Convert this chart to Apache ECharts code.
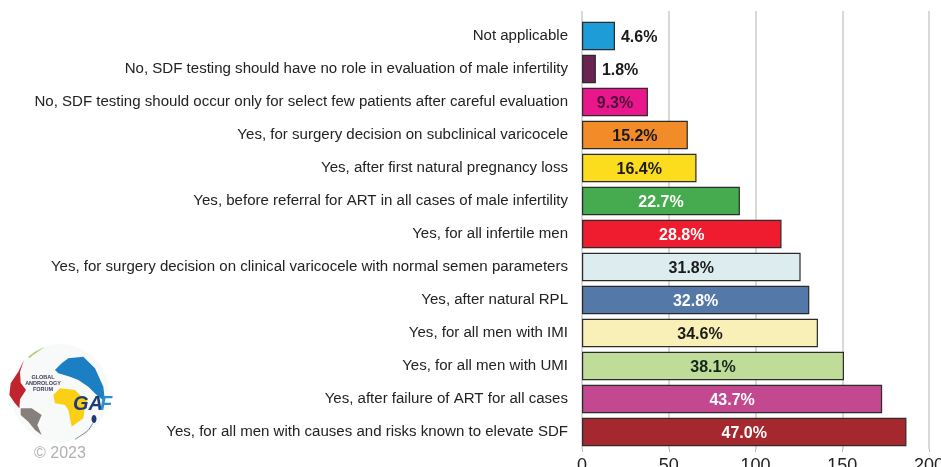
<!DOCTYPE html>
<html><head><meta charset="utf-8">
<style>html,body{margin:0;padding:0;background:#fff;overflow:hidden}#c{width:941px;height:467px}</style>
<script src="https://cdn.jsdelivr.net/npm/echarts@6/dist/echarts.min.js"></script>
</head><body><div id="c"></div>
<script>
const categories = [
 "Not applicable",
 "No, SDF testing should have no role in evaluation of male infertility",
 "No, SDF testing should occur only for select few patients after careful evaluation",
 "Yes, for surgery decision on subclinical varicocele",
 "Yes, after first natural pregnancy loss",
 "Yes, before referral for ART in all cases of male infertility",
 "Yes, for all infertile men",
 "Yes, for surgery decision on clinical varicocele with normal semen parameters",
 "Yes, after natural RPL",
 "Yes, for all men with IMI",
 "Yes, for all men with UMI",
 "Yes, after failure of ART for all cases",
 "Yes, for all men with causes and risks known to elevate SDF"
];
const counts = [19, 8, 38, 61, 66, 91, 115, 126, 131, 136, 151, 173, 187];
const percentLabels = ["4.6%","1.8%","9.3%","15.2%","16.4%","22.7%","28.8%","31.8%","32.8%","34.6%","38.1%","43.7%","47.0%"];
const barColors = ["#1e9cd7","#6b2352","#e9178b","#f28c28","#fbdd1e","#46ab4e","#ee1c2e","#dcecef","#5478a8","#f9f0b8","#bfdc98","#c2488f","#a5282e"];
const labelColors = ["#1a1a1a","#1a1a1a","#4a1238","#1a1a1a","#1a1a1a","#ffffff","#ffffff","#1a1a1a","#ffffff","#1a1a1a","#14261a","#ffffff","#ffffff"];
const xTicks = [0, 50, 100, 150, 200];

const font = '"Liberation Sans", Arial, sans-serif';
const zp = pts => pts.map(p => [p[0] / 3, 340 + p[1] / 3]);
const poly = (points, fill) => ({type:'polygon', shape:{points:zp(points)}, style:{fill}, silent:true});

const chart = echarts.init(document.getElementById('c'), null, {renderer:'canvas'});
chart.setOption({
  animation:false,
  textStyle:{fontFamily:font},
  grid:[
    {left:582,width:347,top:11,height:438,containLabel:false,outerBoundsMode:'none'},
    {left:582,width:347,top:19.5,height:429,containLabel:false,outerBoundsMode:'none'}
  ],
  xAxis:[
    {gridIndex:0,type:'value',min:xTicks[0],max:xTicks[4],interval:50,
     axisLine:{show:false},
     axisTick:{show:true,length:3,lineStyle:{color:'#bbbbbb',width:1}},
     axisLabel:{color:'#222',fontSize:18,margin:8,showMaxLabel:true},
     splitLine:{show:true,lineStyle:{color:'#cccccc',width:1.5}}},
    {gridIndex:1,type:'value',min:xTicks[0],max:xTicks[4],interval:50,show:false,splitLine:{show:false}}
  ],
  yAxis:[
    {gridIndex:0,type:'value',show:false,min:0,max:1,splitLine:{show:false}},
    {gridIndex:1,type:'category',inverse:true,data:categories,
     axisLine:{show:false},axisTick:{show:false},
     axisLabel:{color:'#222',fontSize:15.05,margin:14,interval:0,fontFamily:font,padding:[0,0,6,0]},
     splitLine:{show:false}}
  ],
  series:[{
    type:'bar',xAxisIndex:1,yAxisIndex:1,barCategoryGap:'14%',
    data:counts.map((v,i)=>({
      value:v,
      itemStyle:{color:barColors[i],borderColor:'#2b2b2b',borderWidth:1.2},
      label:{
        show:true,
        position:i<2?'right':'inside',
        distance:6,
        offset:[0,1.5],
        formatter:percentLabels[i],
        color:labelColors[i],
        fontWeight:'bold',fontSize:16,fontFamily:font
      }
    }))
  }],
  graphic:[
    {type:'circle',shape:{cx:60,cy:393,r:49},style:{fill:'#f8f9f9'},silent:true},
    poly([[85,50],[105,35],[135,20],[118,32],[98,46],[88,55]],'#a8cf6c'),
    poly([[72,60],[55,95],[32,130],[28,165],[45,190],[58,205],[60,178],[78,150],[62,128],[60,95]],'#c0242c'),
    poly([[62,205],[95,205],[125,225],[112,255],[125,285],[105,270],[85,245],[62,225]],'#86807c'),
    poly([[185,70],[205,55],[250,50],[285,85],[310,140],[315,185],[290,165],[265,140],[235,120],[210,110],[175,100],[165,90]],'#1c7fc4'),
    poly([[160,165],[180,145],[225,150],[245,170],[265,175],[255,200],[250,235],[215,260],[205,210],[195,195],[165,190]],'#fbcf14'),
    {type:'ellipse',shape:{cx:94,cy:419,rx:2.5,ry:4},style:{fill:'#1e3a78'},silent:true},
    {type:'polyline',shape:{points:zp([[278,250],[265,270],[245,285],[225,298]]),smooth:0.4},style:{stroke:'#6a7f9a',lineWidth:1,fill:null},silent:true},
    {type:'text',x:43,y:374,style:{text:'GLOBAL\nANDROLOGY\nFORUM',fill:'#3a3a5a',fontSize:5.5,fontWeight:'bold',align:'center',lineHeight:6,fontFamily:font},silent:true},
    {type:'text',x:73,y:394,style:{text:'GA',fill:'#1e3a78',fontSize:20,fontWeight:'bold',fontStyle:'italic',fontFamily:font},silent:true},
    {type:'text',x:100,y:394,style:{text:'F',fill:'#2a8fd0',fontSize:20,fontWeight:'bold',fontStyle:'italic',fontFamily:font},silent:true},
    {type:'text',x:34,y:446,style:{text:'© 2023',fill:'#b0b0b0',fontSize:16,fontFamily:font},silent:true}
  ]
});
</script></body></html>
